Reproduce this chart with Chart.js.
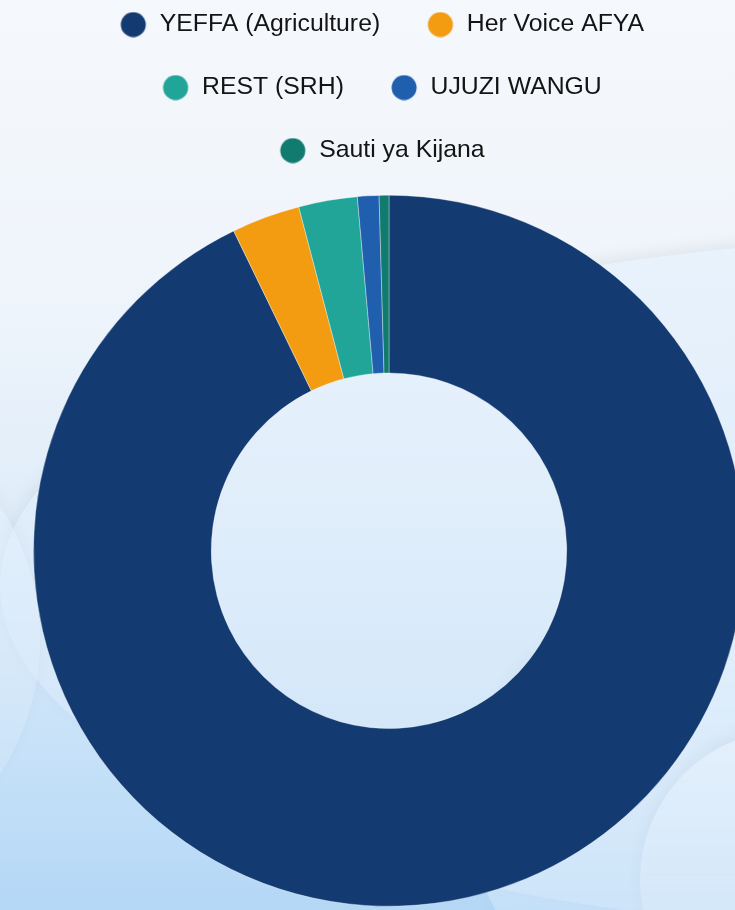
<!DOCTYPE html>
<html>
<head>
<meta charset="utf-8">
<title>Programme reach</title>
<script src="https://cdn.jsdelivr.net/npm/chart.js@4.4.1/dist/chart.umd.min.js"></script>
<style>
    html, body {
        margin: 0;
        padding: 0;
        width: 735px;
        height: 910px;
        overflow: hidden;
    }
    body {
        position: relative;
        background: linear-gradient(180deg, #f5f8fc 0%, #f0f5fb 30%, #dcebf9 62%, #c4e0f8 85%, #b4d7f6 100%);
        font-family: "Liberation Sans", Arial, sans-serif;
    }
    .cloud {
        position: absolute;
        border-radius: 50%;
        background: linear-gradient(180deg, rgba(232, 242, 252, 0.9), rgba(205, 228, 249, 0.6));
        box-shadow: 0 -6px 14px rgba(120, 130, 150, 0.12);
    }
    #wrap {
        position: absolute;
        left: 33px;
        top: -26.5px;
        width: 712px;
        height: 954.5px;
    }
</style>
</head>
<body>
<div class="cloud" style="left:0px; top:236px; width:2000px; height:700px;"></div>
<div class="cloud" style="left:-520px; top:380px; width:560px; height:520px; opacity:0.6;"></div>
<div class="cloud" style="left:470px; top:600px; width:420px; height:420px; opacity:0.7;"></div>
<div class="cloud" style="left:640px; top:730px; width:300px; height:300px; opacity:0.7;"></div>
<div id="wrap"><canvas id="chart"></canvas></div>
<script>
    // 프로그램별 참여 인원 (그림에서 각도로 읽은 추정치)
    const programmes = ['YEFFA (Agriculture)', 'Her Voice AFYA', 'REST (SRH)', 'UJUZI WANGU', 'Sauti ya Kijana'];
    const participants = [2090, 70, 60, 22, 10];
    const colours = ['#143b71', '#f39c12', '#20a598', '#1f5fae', '#127b6f'];

    // 범례 점: 36px 상자 안에서 오른쪽으로 붙인 원 (글자와 간격 맞춤)
    const dotBox = 36;
    function makeDot(colour) {
        const c = document.createElement('canvas');
        c.width = dotBox;
        c.height = 26;
        const g = c.getContext('2d');
        g.fillStyle = colour;
        g.beginPath();
        g.arc(dotBox - 14, 13, 12.5, 0, Math.PI * 2);
        g.fill();
        return c;
    }
    const dots = colours.map(makeDot);

    // 범례를 도넛 중심보다 살짝 왼쪽으로
    const legendShift = {
        id: 'legendShift',
        afterLayout(chart) {
            chart.legend.left -= 11.3;
            chart.legend.right -= 11.3;
        }
    };

    const ctx = document.getElementById('chart').getContext('2d');
    new Chart(ctx, {
        type: 'doughnut',
        data: {
            labels: programmes,
            datasets: [{
                data: participants,
                backgroundColor: colours,
                borderColor: 'rgba(255, 255, 255, 0.35)',
                borderWidth: 1
            }]
        },
        options: {
            responsive: true,
            maintainAspectRatio: false,
            animation: false,
            cutout: '50%',
            plugins: {
                legend: {
                    position: 'top',
                    labels: {
                        usePointStyle: true,
                        pointStyleWidth: dotBox,
                        boxHeight: 18,
                        padding: 38.2,
                        color: '#141414',
                        font: {
                            family: '"Liberation Sans", Arial, sans-serif',
                            size: 24.8
                        },
                        generateLabels(chart) {
                            const items = Chart.overrides.doughnut.plugins.legend.labels.generateLabels(chart);
                            items.forEach((item, i) => { item.pointStyle = dots[i]; });
                            return items;
                        }
                    }
                },
                tooltip: { enabled: false }
            }
        },
        plugins: [legendShift]
    });
</script>
</body>
</html>
